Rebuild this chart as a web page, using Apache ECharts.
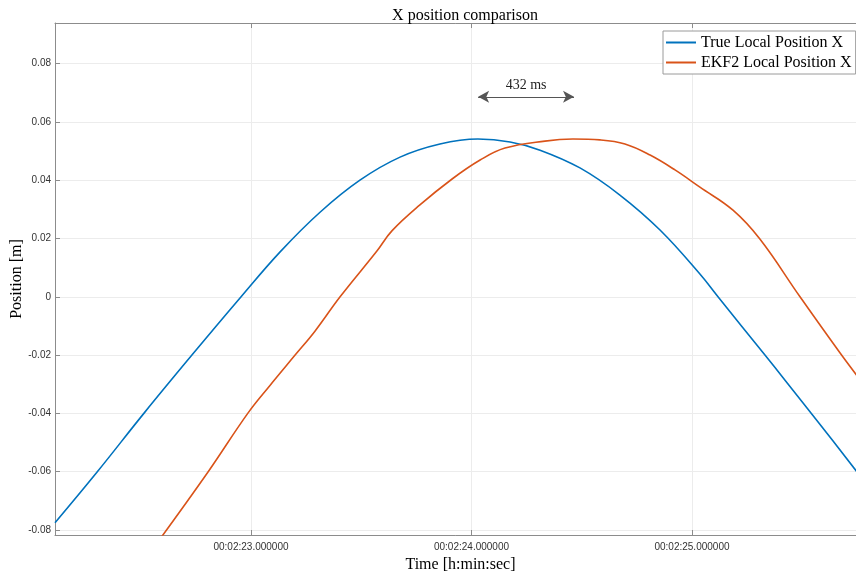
<!DOCTYPE html>
<html>
<head>
<meta charset="utf-8">
<script src="https://cdn.jsdelivr.net/npm/echarts@6/dist/echarts.min.js"></script>
<style>html,body{margin:0;padding:0;background:#fff}#c{width:856px;height:574px}</style>
</head>
<body>
<div id="c"></div>
<script>
// Time in seconds within minute 00:02
const timeTrue = [22.111, 22.302, 22.515, 22.732, 22.955, 23.132, 23.313, 23.494, 23.676, 23.857, 24.029, 24.175, 24.311, 24.492, 24.673, 24.855, 25.036, 25.118, 25.331, 25.422, 25.580, 25.753];
const posTrue  = [-0.0775, -0.0601, -0.0399, -0.0200, 0.0000, 0.0154, 0.0290, 0.0400, 0.0479, 0.0524, 0.0541, 0.0531, 0.0503, 0.0442, 0.0349, 0.0229, 0.0078, 0.0000, -0.0200, -0.0286, -0.0437, -0.0605];
const timeEkf = [22.587, 22.805, 22.986, 23.086, 23.200, 23.290, 23.404, 23.571, 23.639, 23.766, 23.912, 24.039, 24.152, 24.333, 24.460, 24.583, 24.696, 24.810, 24.923, 25.036, 25.186, 25.308, 25.490, 25.671, 25.753];
const posEkf  = [-0.0831, -0.0601, -0.0399, -0.0304, -0.0200, -0.0118, 0.0000, 0.0157, 0.0226, 0.0315, 0.0404, 0.0469, 0.0510, 0.0534, 0.0541, 0.0538, 0.0524, 0.0486, 0.0435, 0.0376, 0.0297, 0.0198, 0.0000, -0.0192, -0.0275];
const xTicks = [23, 24, 25];
const yTicks = [-0.08, -0.06, -0.04, -0.02, 0, 0.02, 0.04, 0.06, 0.08];
const delayStart = [24.030, 0.0686];
const delayEnd   = [24.465, 0.0686];
const delayLabel = '432 ms';
const seriesNames = ['True Local Position X', 'EKF2 Local Position X'];

const serif = 'Liberation Serif';
const sans = 'Liberation Sans';
const axisGrey = '#8c8c8c';

const zip = (a, b) => a.map((t, i) => [t, b[i]]);
const fmtTime = v => {
  const s = Math.round(v);
  return '00:02:' + String(s).padStart(2, '0') + '.000000';
};

const chart = echarts.init(document.getElementById('c'), null, {renderer: 'canvas'});
chart.setOption({
  animation: false,
  backgroundColor: '#ffffff',
  title: {
    text: 'X position comparison',
    left: 460, top: 3, textAlign: 'center',
    textStyle: {fontFamily: serif, fontSize: 16, fontWeight: 'normal', color: '#000'}
  },
  legend: {
    orient: 'vertical',
    left: 663, top: 31,
    padding: [3, 4, 3, 3],
    itemGap: 3,
    icon: 'rect',
    itemWidth: 30, itemHeight: 2,
    backgroundColor: '#fff',
    borderColor: '#9a9a9a', borderWidth: 1,
    textStyle: {fontFamily: serif, fontSize: 16, color: '#000', lineHeight: 17},
    data: seriesNames
  },
  grid: {left: 55, top: 23, width: 803, height: 512, containLabel: false, outerBoundsMode: 'none'},
  xAxis: [{
    type: 'value',
    min: 22.111, max: 25.753,
    splitNumber: 4,
    axisLine: {show: true, onZero: false, lineStyle: {color: axisGrey, width: 1}},
    axisTick: {show: true, inside: true, length: 5, lineStyle: {color: axisGrey}},
    axisLabel: {
      showMinLabel: false, showMaxLabel: false,
      fontFamily: sans, fontSize: 10, color: '#333', margin: 7,
      formatter: v => xTicks.some(t => Math.abs(t - v) < 1e-6) ? fmtTime(v) : ''
    },
    splitLine: {show: true, lineStyle: {color: '#ececec', width: 1}},
    name: 'Time [h:min:sec]',
    nameLocation: 'middle', nameGap: 22,
    nameTextStyle: {fontFamily: serif, fontSize: 16, color: '#000', padding: [0, 0, 0, 8]}
  }, {
    type: 'value', position: 'top',
    min: 22.111, max: 25.753, splitNumber: 4,
    axisLine: {show: true, onZero: false, lineStyle: {color: axisGrey, width: 1}},
    axisTick: {show: true, inside: true, length: 5, lineStyle: {color: axisGrey}},
    axisLabel: {show: false},
    splitLine: {show: false}
  }],
  yAxis: {
    type: 'value',
    min: -0.0817, max: 0.0939,
    splitNumber: 9,
    axisLine: {show: true, onZero: false, lineStyle: {color: axisGrey, width: 1}},
    axisTick: {show: true, inside: true, length: 5, lineStyle: {color: axisGrey}},
    axisLabel: {
      showMinLabel: false, showMaxLabel: false,
      fontFamily: sans, fontSize: 10, color: '#333', margin: 4,
      formatter: v => {
        const m = yTicks.find(t => Math.abs(t - v) < 1e-6);
        if (m === undefined) return '';
        return m === 0 ? '0' : m.toFixed(2);
      }
    },
    splitLine: {show: true, lineStyle: {color: '#ececec', width: 1}},
    name: 'Position [m]',
    nameLocation: 'middle', nameGap: 30, nameRotate: 90,
    nameMoveOverlap: false,
    nameTextStyle: {fontFamily: serif, fontSize: 16, color: '#000'}
  },
  series: [{
    name: seriesNames[0],
    type: 'line',
    data: zip(timeTrue, posTrue),
    smooth: 0.4, symbol: 'none', clip: true,
    lineStyle: {color: '#0072BD', width: 1.6},
    itemStyle: {color: '#0072BD'},
    markLine: {
      silent: true,
      symbol: ['arrow', 'arrow'], symbolSize: [9, 11],
      lineStyle: {color: '#555', width: 1, type: 'solid'},
      itemStyle: {color: '#333'},
      label: {show: true, position: 'middle', formatter: delayLabel, fontFamily: serif, fontSize: 14, color: '#222', distance: 4},
      data: [[{coord: delayStart}, {coord: delayEnd}]]
    }
  }, {
    name: seriesNames[1],
    type: 'line',
    data: zip(timeEkf, posEkf),
    smooth: 0.4, symbol: 'none', clip: true,
    lineStyle: {color: '#D95319', width: 1.6},
    itemStyle: {color: '#D95319'}
  }]
});
</script>
</body>
</html>
